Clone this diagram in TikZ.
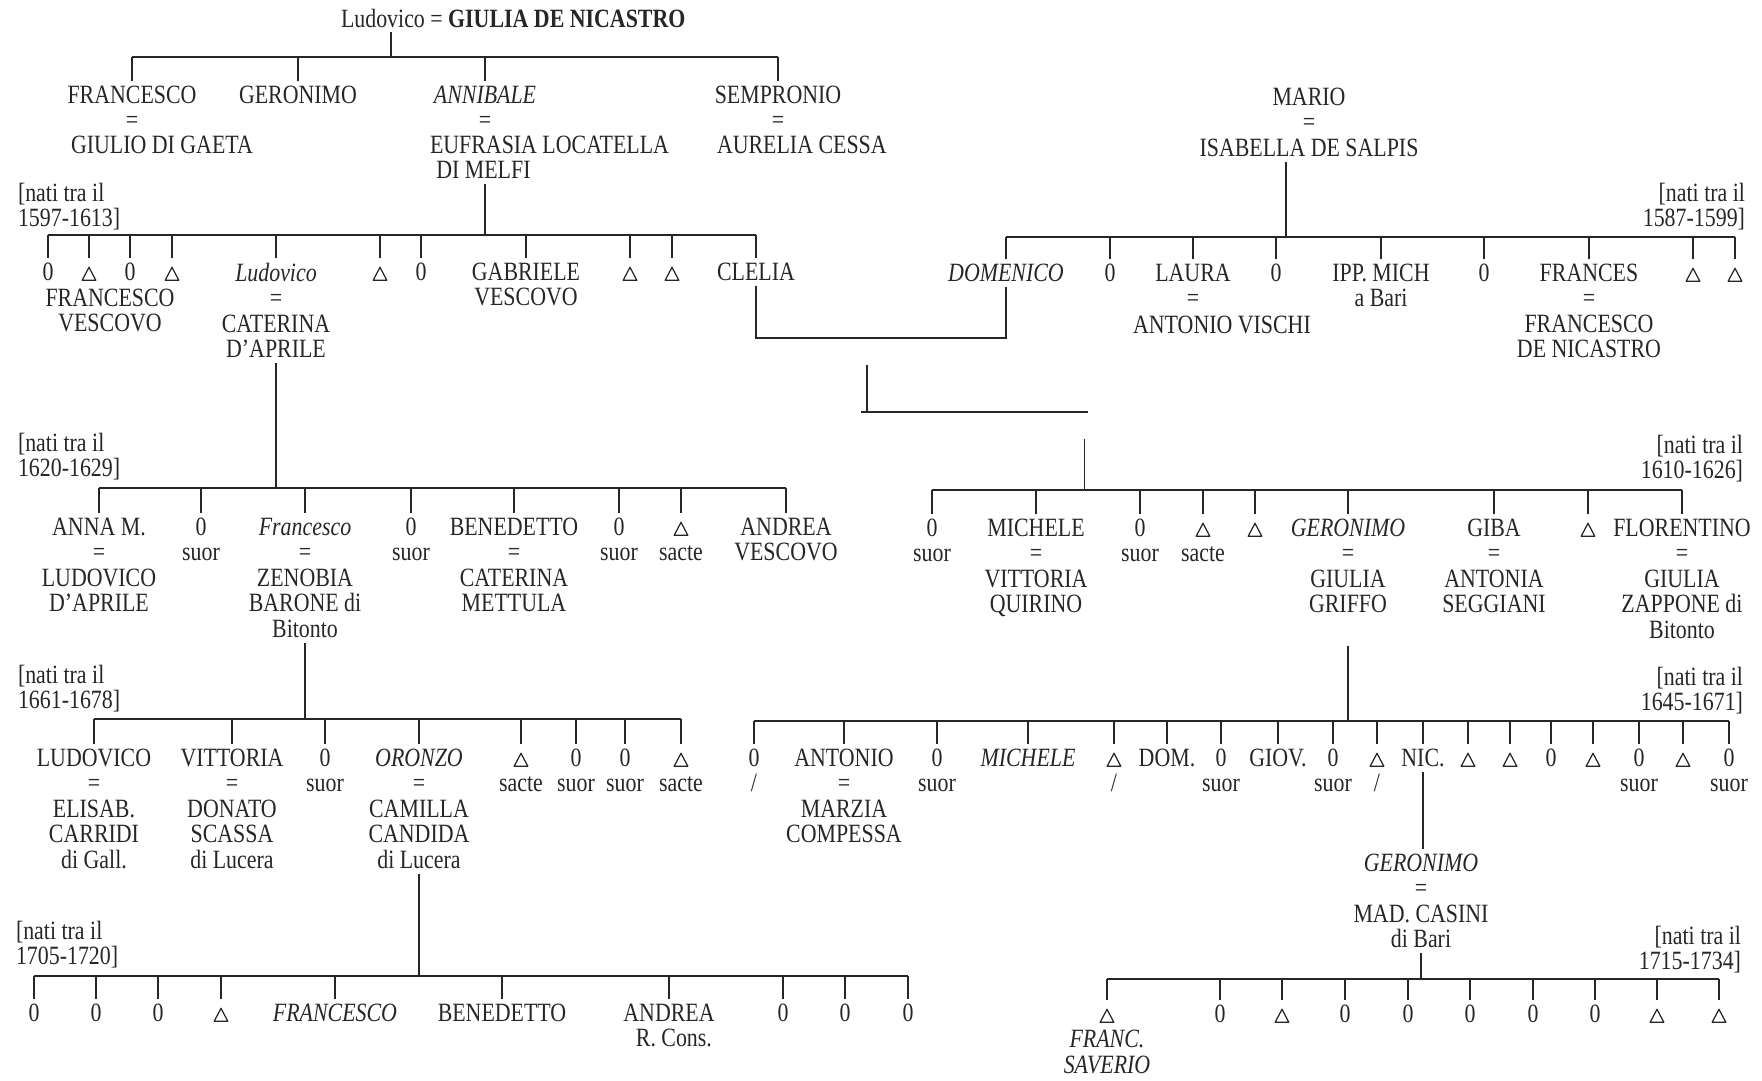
\documentclass[tikz,border=0pt]{standalone}
\usepackage{fontspec}
\setmainfont{Liberation Serif}[FakeStretch=0.83]
\newcommand\tri{\vphantom{0}\tikz[baseline=0pt]\draw[line width=0.35pt,line join=round] (0pt,0pt) -- (3.9pt,0pt) -- (1.95pt,3.7pt) -- cycle;}

\begin{document}
\begin{tikzpicture}[x=0.01cm, y=-0.01cm,
   color=black!85, line width=0.45pt,
   font=\fontsize{7.5}{7.26}\selectfont,
   p/.style={anchor=north, align=center, inner sep=1.2pt, yshift=6.3pt},
   sp/.style={anchor=north west, align=left, inner sep=1.2pt, yshift=6.3pt},
   natil/.style={anchor=north west, align=left, inner sep=1.2pt, yshift=6.3pt},
   natir/.style={anchor=north east, align=right, inner sep=1.2pt, yshift=6.3pt}]
  \useasboundingbox (0,0) rectangle (1762,1081);

  % first couple and their sons
  \node[anchor=base west, inner sep=1.2pt] (top) at (336,27) {Ludovico = \textbf{GIULIA DE NICASTRO}};
  \coordinate (g1) at (391,57);
  \node[p] (fr1) at (132,103) {FRANCESCO\\=};
  \node[sp] (fr1s) at (66,153) {GIULIO DI GAETA};
  \node[p] (ger1) at (298,103) {GERONIMO};
  \node[p] (ann1) at (485,103) {\textit{ANNIBALE}\\=};
  \node[sp] (ann1s) at (425,153) {EUFRASIA LOCATELLA\\\kern1.8pt DI MELFI};
  \node[p] (sem1) at (778,103) {SEMPRONIO\\=};
  \node[sp] (sem1s) at (712,153) {AURELIA CESSA};
  \node[p] (mario) at (1309,105) {MARIO\\=\\ISABELLA DE SALPIS};
  \draw (g1 |- top.south) -- (g1);
  \draw (fr1.north |- g1) -- (sem1.north |- g1);
  \foreach \n in {fr1,ger1,ann1,sem1} \draw (\n.north |- g1) -- (\n.north);

  % children of Annibale
  \node[natil] (n1) at (13,200) {[nati tra il\\1597-1613]};
  \coordinate (g2l) at (485,235);
  \node[p] (a1) at (48,280) {0};
  \node[p] (a2) at (89,280) {\tri};
  \node[p] (a3) at (130,280) {0};
  \node[p] (a4) at (172,280) {\tri};
  \node[p] (afv) at (110,306) {FRANCESCO\\VESCOVO};
  \node[p] (lud2) at (276,280) {\textit{Ludovico}\\=\\CATERINA\\D'APRILE};
  \node[p] (a6) at (380,280) {\tri};
  \node[p] (a7) at (421,280) {0};
  \node[p] (gab2) at (526,280) {GABRIELE\\VESCOVO};
  \node[p] (a9) at (630,280) {\tri};
  \node[p] (a10) at (672,280) {\tri};
  \node[p] (clel) at (756,280) {CLELIA};
  \draw (ann1 |- ann1s.south) -- (g2l);
  \draw (a1.north |- g2l) -- (clel.north |- g2l);
  \foreach \n in {a1,a2,a3,a4,lud2,a6,a7,gab2,a9,a10,clel} \draw (\n.north |- g2l) -- (\n.north);

  % children of Mario
  \node[natir] (n2) at (1750,200) {[nati tra il\\1587-1599]};
  \coordinate (g2r) at (1286,237);
  \node[p] (dom) at (1006,281) {\textit{DOMENICO}};
  \node[p] (b2) at (1110,281) {0};
  \node[p] (laura) at (1193,281) {LAURA\\=};
  \node[p] (laus) at (1222,333) {ANTONIO VISCHI};
  \node[p] (b4) at (1276,281) {0};
  \node[p] (ipp) at (1381,281) {IPP. MICH\\a Bari};
  \node[p] (b6) at (1484,281) {0};
  \node[p] (fra2) at (1589,281) {FRANCES\\=\\FRANCESCO\\DE NICASTRO};
  \node[p] (b8) at (1693,281) {\tri};
  \node[p] (b9) at (1735,281) {\tri};
  \draw (g2r |- mario.south) -- (g2r);
  \draw (dom.north |- g2r) -- (b9.north |- g2r);
  \foreach \n in {dom,b2,laura,b4,ipp,b6,fra2,b8,b9} \draw (\n.north |- g2r) -- (\n.north);

  % Clelia = Domenico
  \coordinate (cd) at (880,338);
  \draw (clel.south) |- (cd) -| (dom.south);
  \coordinate (m1) at (867,365);
  \coordinate (m2) at (867,412);
  \coordinate (m3) at (861,412);
  \coordinate (m4) at (1088,412);
  \coordinate (m5) at (1084.5,439);
  \coordinate (g3r) at (1084.5,490);
  \draw (m1) -- (m2);
  \draw (m3) -- (m4);
  \draw (m5) -- (g3r);

  % children of Ludovico
  \node[natil] (n3) at (13,450) {[nati tra il\\1620-1629]};
  \coordinate (g3l) at (276,488);
  \node[p] (c1) at (99,535) {ANNA M.\\=\\LUDOVICO\\D'APRILE};
  \node[p] (c2) at (201,535) {0\\suor};
  \node[p] (fra3) at (305,535) {\textit{Francesco}\\=\\ZENOBIA\\BARONE di\\Bitonto};
  \node[p] (c4) at (411,535) {0\\suor};
  \node[p] (ben3) at (514,535) {BENEDETTO\\=\\CATERINA\\METTULA};
  \node[p] (c6) at (619,535) {0\\suor};
  \node[p] (c7) at (681,535) {\tri\\sacte};
  \node[p] (and3) at (786,535) {ANDREA\\VESCOVO};
  \draw (lud2.south) -- (lud2.south |- g3l);
  \draw (c1.north |- g3l) -- (and3.north |- g3l);
  \foreach \n in {c1,c2,fra3,c4,ben3,c6,c7,and3} \draw (\n.north |- g3l) -- (\n.north);

  % children of Domenico
  \node[natir] (n4) at (1748,452) {[nati tra il\\1610-1626]};
  \node[p] (d1) at (932,536) {0\\suor};
  \node[p] (mic3) at (1036,536) {MICHELE\\=\\VITTORIA\\QUIRINO};
  \node[p] (d3) at (1140,536) {0\\suor};
  \node[p] (d4) at (1203,536) {\tri\\sacte};
  \node[p] (d5) at (1255,536) {\tri};
  \node[p] (ger3) at (1348,536) {\textit{GERONIMO}\\=\\GIULIA\\GRIFFO};
  \node[p] (giba) at (1494,536) {GIBA\\=\\ANTONIA\\SEGGIANI};
  \node[p] (d8) at (1588,536) {\tri};
  \node[p] (flo3) at (1682,536) {FLORENTINO\\=\\GIULIA\\ZAPPONE di\\Bitonto};
  \draw (d1.north |- g3r) -- (flo3.north |- g3r);
  \foreach \n in {d1,mic3,d3,d4,d5,ger3,giba,d8,flo3} \draw (\n.north |- g3r) -- (\n.north);

  % children of Francesco
  \node[natil] (n5) at (13,682) {[nati tra il\\1661-1678]};
  \coordinate (g4l) at (305,719);
  \node[p] (e1) at (94,766) {LUDOVICO\\=\\ELISAB.\\CARRIDI\\di Gall.};
  \node[p] (e2) at (232,766) {VITTORIA\\=\\DONATO\\SCASSA\\di Lucera};
  \node[p] (e3) at (325,766) {0\\suor};
  \node[p] (oro) at (419,766) {\textit{ORONZO}\\=\\CAMILLA\\CANDIDA\\di Lucera};
  \node[p] (e5) at (521,766) {\tri\\sacte};
  \node[p] (e6) at (576,766) {0\\suor};
  \node[p] (e7) at (625,766) {0\\suor};
  \node[p] (e8) at (681,766) {\tri\\sacte};
  \draw (fra3.south) -- (fra3.south |- g4l);
  \draw (e1.north |- g4l) -- (e8.north |- g4l);
  \foreach \n in {e1,e2,e3,oro,e5,e6,e7,e8} \draw (\n.north |- g4l) -- (\n.north);

  % children of Geronimo
  \node[natir] (n6) at (1748,684) {[nati tra il\\1645-1671]};
  \coordinate (g4r) at (1348,721);
  \node[p] (f1) at (754,766) {0\\/};
  \node[p] (ant4) at (844,766) {ANTONIO\\=\\MARZIA\\COMPESSA};
  \node[p] (f3) at (937,766) {0\\suor};
  \node[p] (mic4) at (1028,766) {\textit{MICHELE}};
  \node[p] (f5) at (1114,766) {\tri\\/};
  \node[p] (dom4) at (1167,766) {DOM.};
  \node[p] (f7) at (1221,766) {0\\suor};
  \node[p] (giov) at (1278,766) {GIOV.};
  \node[p] (f9) at (1333,766) {0\\suor};
  \node[p] (f10) at (1377,766) {\tri\\/};
  \node[p] (nic) at (1423,766) {NIC.};
  \node[p] (f12) at (1468,766) {\tri};
  \node[p] (f13) at (1510,766) {\tri};
  \node[p] (f14) at (1551,766) {0};
  \node[p] (f15) at (1593,766) {\tri};
  \node[p] (f16) at (1639,766) {0\\suor};
  \node[p] (f17) at (1683,766) {\tri};
  \node[p] (f18) at (1729,766) {0\\suor};
  \draw ([yshift=-8pt]ger3.south) -- (ger3.south |- g4r);
  \draw (f1.north |- g4r) -- (f18.north |- g4r);
  \foreach \n in {f1,ant4,f3,mic4,f5,dom4,f7,giov,f9,f10,nic,f12,f13,f14,f15,f16,f17,f18}
    \draw (\n.north |- g4r) -- (\n.north);

  % Nicola's son
  \node[p] (ger5) at (1421,871) {\textit{GERONIMO}\\=\\MAD. CASINI\\di Bari};
  \draw (nic.south) -- (nic.south |- ger5.north);

  % children of Oronzo
  \node[natil] (n7) at (11,938) {[nati tra il\\1705-1720]};
  \coordinate (g5l) at (419,976);
  \node[p] (k1) at (34,1021) {0};
  \node[p] (k2) at (96,1021) {0};
  \node[p] (k3) at (158,1021) {0};
  \node[p] (k4) at (221,1021) {\tri};
  \node[p] (k5) at (335,1021) {\textit{FRANCESCO}};
  \node[p] (k6) at (502,1021) {BENEDETTO};
  \node[p] (k7) at (669,1021) {ANDREA\\\kern2.8pt R. Cons.};
  \node[p] (k8) at (783,1021) {0};
  \node[p] (k9) at (845,1021) {0};
  \node[p] (k10) at (908,1021) {0};
  \draw (oro.south) -- (oro.south |- g5l);
  \draw (k1.north |- g5l) -- (k10.north |- g5l);
  \foreach \n in {k1,k2,k3,k4,k5,k6,k7,k8,k9,k10} \draw (\n.north |- g5l) -- (\n.north);

  % children of Geronimo and Mad. Casini
  \node[natir] (n8) at (1746,943) {[nati tra il\\1715-1734]};
  \coordinate (g5r) at (1421,979);
  \node[p] (h1) at (1107,1022) {\tri\\\textit{FRANC.}\\\textit{SAVERIO}};
  \node[p] (h2) at (1220,1022) {0};
  \node[p] (h3) at (1282,1022) {\tri};
  \node[p] (h4) at (1345,1022) {0};
  \node[p] (h5) at (1408,1022) {0};
  \node[p] (h6) at (1470,1022) {0};
  \node[p] (h7) at (1533,1022) {0};
  \node[p] (h8) at (1595,1022) {0};
  \node[p] (h9) at (1657,1022) {\tri};
  \node[p] (h10) at (1719,1022) {\tri};
  \draw (ger5.south) -- (ger5.south |- g5r);
  \draw (h1.north |- g5r) -- (h10.north |- g5r);
  \foreach \n in {h1,h2,h3,h4,h5,h6,h7,h8,h9,h10} \draw (\n.north |- g5r) -- (\n.north);
\end{tikzpicture}
\end{document}
